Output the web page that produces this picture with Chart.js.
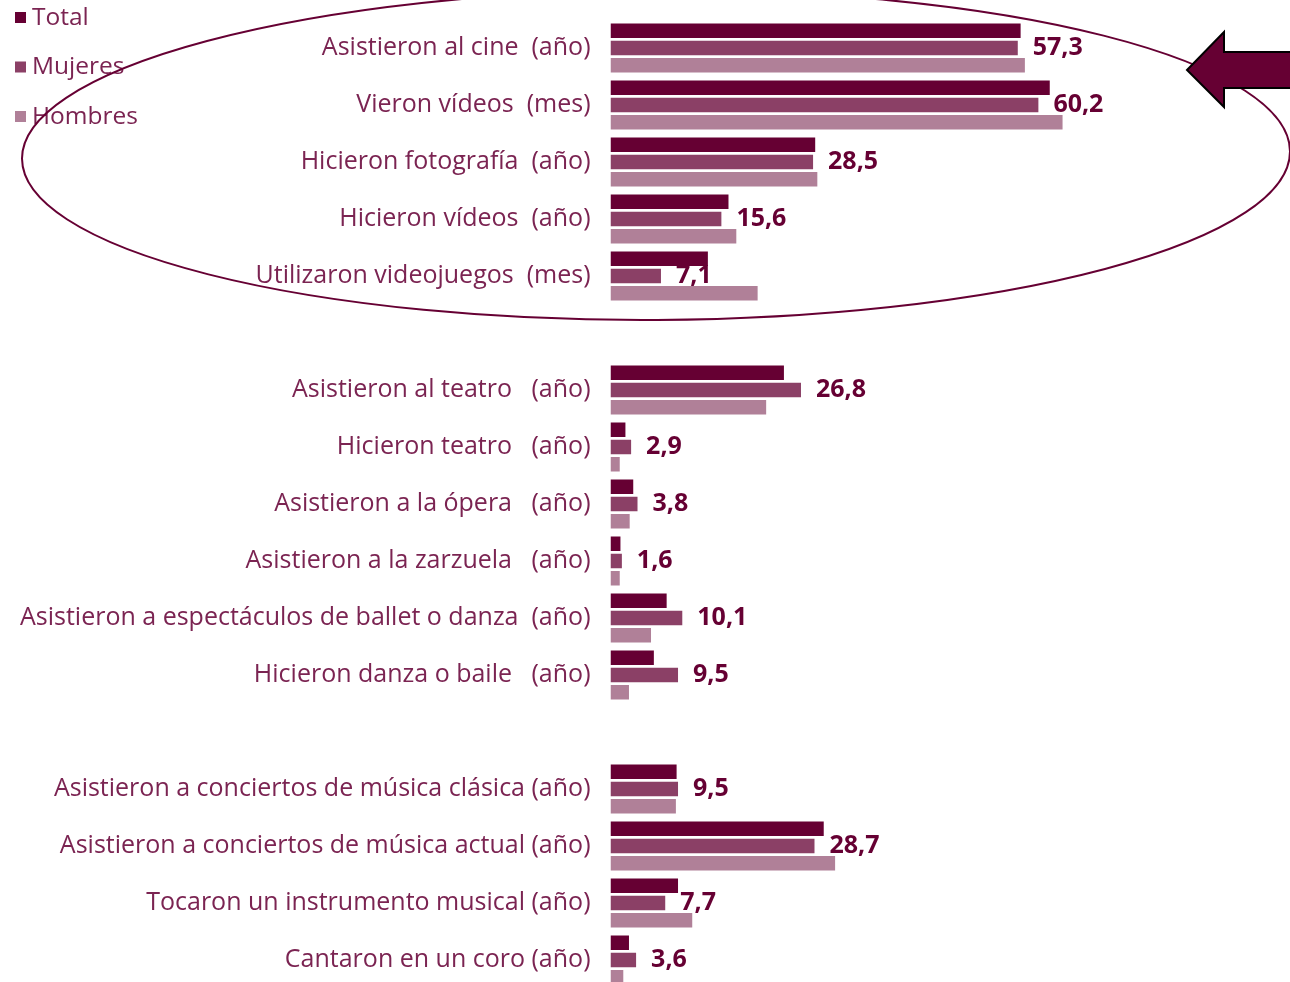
<!DOCTYPE html>
<html lang="es">
<head>
<meta charset="utf-8">
<title>Actividades culturales por sexo</title>
<script src="https://cdn.jsdelivr.net/npm/chart.js@4/dist/chart.umd.min.js"></script>
<style>
  html, body { margin: 0; padding: 0; background: #fff; overflow: hidden; }
  #wrap { position: relative; width: 1290px; height: 1000px; }
  #myChart { display: block; }
</style>
</head>
<body>
<div id="wrap">
  <canvas id="myChart" width="1290" height="1000"></canvas>
</div>
<script>
// categorias ('' = fila vacia entre bloques)
const categories = [
  'Asistieron al cine  (año)',
  'Vieron vídeos  (mes)',
  'Hicieron fotografía  (año)',
  'Hicieron vídeos  (año)',
  'Utilizaron videojuegos  (mes)',
  '',
  'Asistieron al teatro   (año)',
  'Hicieron teatro   (año)',
  'Asistieron a la ópera   (año)',
  'Asistieron a la zarzuela   (año)',
  'Asistieron a espectáculos de ballet o danza  (año)',
  'Hicieron danza o baile   (año)',
  '',
  'Asistieron a conciertos de música clásica (año)',
  'Asistieron a conciertos de música actual (año)',
  'Tocaron un instrumento musical (año)',
  'Cantaron en un coro (año)'
];

const seriesNames = ['Total', 'Mujeres', 'Hombres'];

const totalValues   = [57.7, 61.8, 28.8, 16.6, 13.7, null, 24.4, 2.1, 3.2, 1.4, 7.9, 6.1, null, 9.3, 30.0, 9.5, 2.6];
const mujeresValues = [57.3, 60.2, 28.5, 15.6, 7.1, null, 26.8, 2.9, 3.8, 1.6, 10.1, 9.5, null, 9.5, 28.7, 7.7, 3.6];
const hombresValues = [58.3, 63.6, 29.1, 17.7, 20.7, null, 21.9, 1.3, 2.7, 1.3, 5.7, 2.6, null, 9.2, 31.6, 11.5, 1.8];

const colors = ['#660033', '#8b4066', '#b08098'];
const textColor = '#7b2452';
const labelColor = '#660033';
const FONT = '"Open Sans"';
const X_MAX = 95.6;

// etiquetas con el valor de Mujeres
const valueLabels = {
  id: 'valueLabels',
  afterDatasetsDraw(chart) {
    const ctx = chart.ctx;
    const meta = chart.getDatasetMeta(1);
    ctx.save();
    ctx.font = 'bold 25px ' + FONT;
    ctx.fillStyle = labelColor;
    ctx.textAlign = 'left';
    ctx.textBaseline = 'middle';
    meta.data.forEach((bar, i) => {
      const v = chart.data.datasets[1].data[i];
      if (v == null) return;
      ctx.fillText(v.toFixed(1).replace('.', ','), bar.x + 15, bar.y);
    });
    ctx.restore();
  }
};

// leyenda, elipse y flecha
const decorations = {
  id: 'decorations',
  afterDraw(chart) {
    const ctx = chart.ctx;
    ctx.save();

    // leyenda
    ctx.font = '24.5px ' + FONT;
    ctx.textBaseline = 'middle';
    chart.data.datasets.forEach((ds, i) => {
      const y = 18 + i * 49.5;
      ctx.fillStyle = ds.backgroundColor;
      ctx.fillRect(15, y - 6, 11, 11);
      ctx.fillStyle = textColor;
      ctx.fillText(ds.label, 32, y);
    });

    // elipse
    ctx.beginPath();
    ctx.ellipse(656, 155, 634, 165, -0.006, 0, Math.PI * 2);
    ctx.strokeStyle = '#660033';
    ctx.lineWidth = 2;
    ctx.stroke();

    // flecha
    ctx.beginPath();
    ctx.moveTo(1187, 70);
    ctx.lineTo(1224, 32);
    ctx.lineTo(1224, 52);
    ctx.lineTo(1295, 52);
    ctx.lineTo(1295, 88);
    ctx.lineTo(1224, 88);
    ctx.lineTo(1224, 107);
    ctx.closePath();
    ctx.fillStyle = '#660033';
    ctx.fill();
    ctx.strokeStyle = '#000';
    ctx.lineWidth = 2;
    ctx.stroke();

    ctx.restore();
  }
};

const ctx = document.getElementById('myChart');
new Chart(ctx, {
  type: 'bar',
  data: {
    labels: categories,
    datasets: [
      { label: seriesNames[0], data: totalValues,   backgroundColor: colors[0] },
      { label: seriesNames[1], data: mujeresValues, backgroundColor: colors[1] },
      { label: seriesNames[2], data: hombresValues, backgroundColor: colors[2] }
    ]
  },
  options: {
    indexAxis: 'y',
    responsive: false,
    maintainAspectRatio: false,
    animation: false,
    categoryPercentage: 0.908,
    barPercentage: 0.84,
    layout: { padding: { top: 19.5, bottom: 11.5, left: 0, right: 0 } },
    plugins: {
      legend: { display: false },
      tooltip: { enabled: false }
    },
    scales: {
      x: { display: false, min: 0, max: X_MAX },
      y: {
        grid: { display: false, drawTicks: false },
        border: { display: false },
        ticks: {
          padding: 20,
          color: textColor,
          font: { family: FONT, size: 25 }
        },
        afterFit: s => {
          s.width = 610.5;
          s.paddingTop = 0;
          s.paddingBottom = 0;
        }
      }
    }
  },
  plugins: [valueLabels, decorations]
});
</script>
</body>
</html>
